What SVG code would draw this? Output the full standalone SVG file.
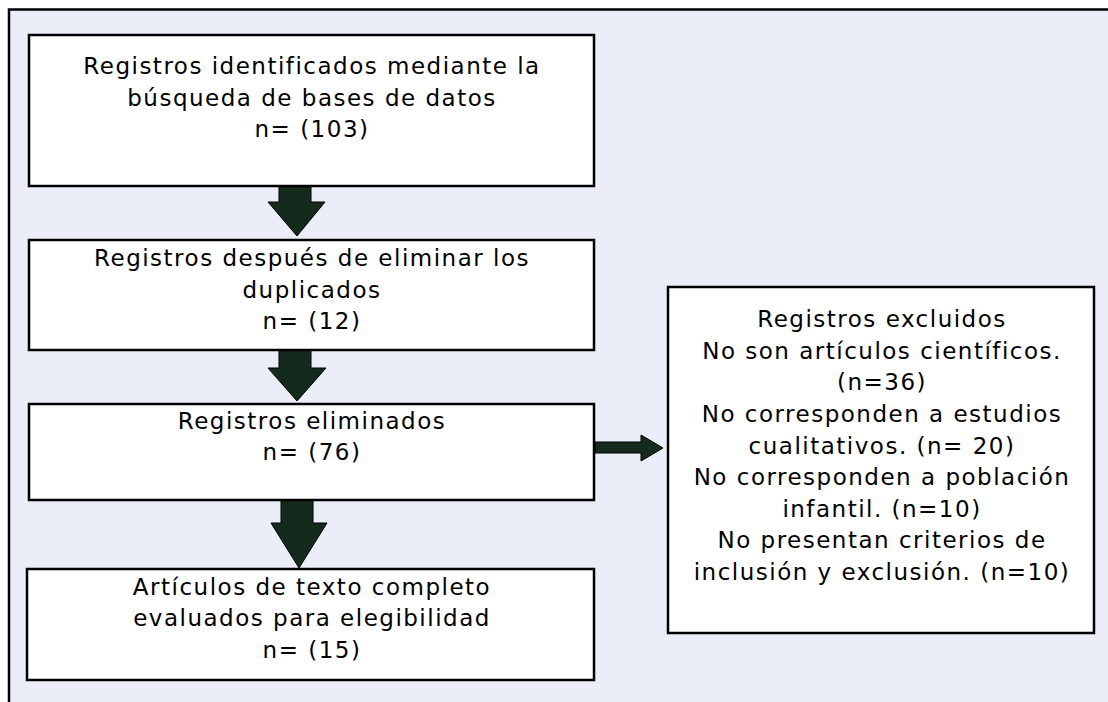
<svg xmlns="http://www.w3.org/2000/svg" width="1108" height="702" viewBox="0 0 1108 702">
<style>
.box{fill:#ffffff;stroke:#000;stroke-width:2.5}
.arr{fill:#132a1c;stroke:#000;stroke-width:1}
text{font-family:"DejaVu Sans",sans-serif;font-size:23px;letter-spacing:1.5px;fill:#000;text-anchor:middle}
</style>
<rect x="0" y="0" width="1108" height="702" fill="#ffffff"/>
<rect x="9" y="9.5" width="1130" height="720" fill="#ebeef8" stroke="#000" stroke-width="2.5"/>
<g id="connectors">
<path class="arr" d="M279,186 H311 V202 H325 L297,236 L268,202 H279 Z"/>
<path class="arr" d="M279,350 H311 V368 H326 L297,401 L268,368 H279 Z"/>
<path class="arr" d="M281,500 H313 V523 H327 L299,568 L271,523 H281 Z"/>
<path class="arr" d="M595,442 H641 V435 L663,448 L641,461 V453 H595 Z"/>
</g>
<g id="node1">
<rect class="box" x="29" y="35" width="565" height="151"/>
<text x="312" y="74">Registros identificados mediante la</text>
<text x="312" y="106">búsqueda de bases de datos</text>
<text x="312" y="137">n= (103)</text>
</g>
<g id="node2">
<rect class="box" x="29" y="240" width="565" height="110"/>
<text x="312" y="266">Registros después de eliminar los</text>
<text x="312" y="298">duplicados</text>
<text x="312" y="329">n= (12)</text>
</g>
<g id="node3">
<rect class="box" x="29" y="404" width="565" height="96"/>
<text x="312" y="429">Registros eliminados</text>
<text x="312" y="460">n= (76)</text>
</g>
<g id="node4">
<rect class="box" x="27" y="569" width="567" height="111"/>
<text x="312" y="595">Artículos de texto completo</text>
<text x="312" y="626">evaluados para elegibilidad</text>
<text x="312" y="658">n= (15)</text>
</g>
<g id="node5">
<rect class="box" x="668" y="287" width="426" height="346"/>
<text x="882" y="327">Registros excluidos</text>
<text x="882" y="359">No son artículos científicos.</text>
<text x="882" y="390">(n=36)</text>
<text x="882" y="422">No corresponden a estudios</text>
<text x="882" y="454">cualitativos. (n= 20)</text>
<text x="882" y="485">No corresponden a población</text>
<text x="882" y="517">infantil. (n=10)</text>
<text x="882" y="548">No presentan criterios de</text>
<text x="882" y="580">inclusión y exclusión. (n=10)</text>
</g>
</svg>
